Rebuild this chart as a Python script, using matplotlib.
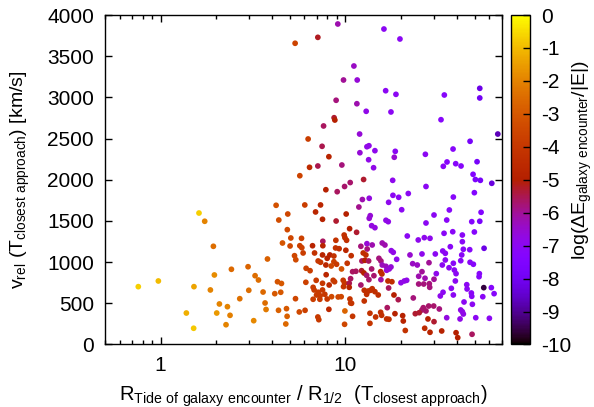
import numpy as np
import matplotlib
matplotlib.use("Agg")
import matplotlib.pyplot as plt
from matplotlib.ticker import LogLocator, FixedLocator, NullFormatter

plt.rcParams["font.family"] = ["Liberation Sans", "DejaVu Sans"]
plt.rcParams["mathtext.default"] = "regular"
plt.rcParams["font.size"] = 14

# R_tide / R_1/2, v_rel [km/s], log(dE/|E|), by region
R_left = [0.757, 0.972, 1.378, 1.509, 1.515, 1.613, 1.732, 1.859, 1.930, 1.954,
          2.012, 2.080, 2.259, 2.299, 2.375, 2.416, 2.681, 2.973, 3.00, 3.19,
          3.245, 3.385, 3.585, 3.675, 3.72, 3.787, 4.147, 4.217, 4.291, 4.345,
          4.361, 4.468, 4.508, 4.566, 4.759, 4.80, 4.837, 4.85, 4.877, 5.02,
          5.066, 5.305, 5.39, 5.345, 5.37, 5.63, 5.667]
v_left = [702, 771, 382, 197, 702, 1596, 1496, 662, 1192, 844,
          382, 492, 240, 459, 354, 913, 556, 944, 658, 289,
          835, 783, 637, 504, 425, 1038, 617, 1690, 762, 415,
          1511, 634, 741, 1232, 249, 435, 342, 1394, 1584, 1196,
          1293, 1078, 1029, 3657, 556, 395, 2049]
c_left = [-0.7, -1.0, -1.2, -0.8, -1.4, -0.7, -2.0, -2.0, -2.5, -1.8,
          -1.6, -2.0, -2.0, -2.0, -2.1, -2.6, -2.4, -2.7, -2.5, -1.9,
          -2.5, -2.5, -2.6, -2.5, -2.2, -2.8, -3.0, -3.2, -3.1, -2.8,
          -3.3, -3.0, -3.0, -3.1, -2.6, -3.0, -2.8, -3.4, -3.5, -3.5,
          -3.5, -3.5, -3.4, -3.6, -3.5, -3.4, -3.6]

R_mid = [7.095, 7.62, 6.285, 7.48, 8.14, 6.397, 7.095, 6.03, 7.337, 6.896,
         7.52, 5.789, 5.667, 5.81, 6.64, 7.55, 7.55, 5.905, 6.81, 7.52,
         8.24, 7.97, 7.12, 7.337, 7.84, 6.13, 6.44, 7.87, 6.95, 6.109,
         7.52, 8.17, 6.69, 6.774, 7.12, 7.52, 6.98, 7.30, 7.74, 6.69,
         7.275, 7.97, 6.05, 8.14, 7.095, 7.18]
v_mid = [3729, 2653, 2495, 2406, 2280, 2151, 2167, 1694, 1694, 1609,
         1520, 1289, 1199, 1175, 1199, 1253, 1199, 1111, 1111, 1087,
         1087, 1046, 1014, 998, 965, 925, 896, 847, 779, 755,
         743, 722, 694, 662, 634, 662, 601, 592, 609, 549,
         549, 552, 415, 427, 334, 301]
c_mid = [-5.2, -5.6, -3.8, -5.5, -4.8, -4.5, -5.5, -3.8, -4.7, -4.7,
         -4.9, -3.7, -3.7, -3.7, -4.8, -5.6, -4.8, -3.8, -4.2, -4.8,
         -5.0, -4.9, -4.0, -4.0, -4.7, -3.7, -3.8, -4.7, -3.9, -3.7,
         -4.0, -4.6, -3.9, -3.9, -3.9, -4.0, -3.9, -3.9, -4.0, -3.8,
         -3.9, -4.0, -3.7, -4.6, -3.9, -3.9]

R_top = [9.10, 16.17, 19.74, 11.12, 9.77, 11.59, 16.52, 18.78, 8.91, 11.54,
         12.96, 17.65, 8.69, 8.77, 11.94, 11.98, 13.08, 13.41, 14.45, 18.62,
         18.39, 13.36, 9.57, 14.21, 12.55, 18.03,
         34.32, 53.38, 53.38, 32.93, 66.83, 47.3, 38.26, 27.1, 35.49, 33.89,
         39.55, 42.27, 51.6, 49.1, 50.53, 53.78]
v_top = [3891, 3830, 3709, 3381, 3211, 3211, 3081, 3037, 2965, 2923,
         2831, 2823, 2753, 2725, 2555, 2328, 2401, 2413, 2353, 2345,
         2273, 2243, 2179, 2146, 2003, 1993,
         3029, 3110, 2993, 2729, 2555, 2467, 2373, 2309, 2216, 2163,
         2195, 2167, 2219, 2066, 2003, 1993]
c_top = [-6.2, -7.0, -7.0, -6.4, -6.0, -6.6, -7.0, -7.0, -5.8, -6.2,
         -6.8, -7.0, -5.3, -5.0, -6.6, -6.6, -6.8, -6.8, -6.9, -7.0,
         -6.5, -6.8, -5.8, -6.8, -5.3, -6.9,
         -7.2, -8.2, -8.0, -7.2, -8.7, -7.8, -7.2, -7.0, -7.2, -7.1,
         -7.2, -7.2, -7.8, -7.4, -7.6, -7.8]

R_ten = [7.84, 9.03, 9.90, 10.62, 12.36, 13.46, 18.09, 19.43, 21.9, 17.14,
         20.17, 11.83, 10.10, 13.63, 13.46, 8.91, 16.58, 17.06, 13.87, 14.45,
         10.54, 11.50, 8.88, 9.85, 9.94, 10.15, 21.63, 8.85, 9.25, 10.06,
         12.13, 13.08, 13.97, 13.12, 15.83, 16.37, 18.16, 17.71, 8.665, 10.75,
         12.49, 12.91, 15.19, 15.57, 18.95, 22.37, 8.665, 8.38, 8.96, 10.23,
         12.29, 12.76, 13.36, 15.83, 16.58, 17.65, 11.40, 10.94, 12.24, 12.60,
         13.87, 14.27, 15.52, 15.77, 16.73, 17.27, 9.53, 8.59, 8.74, 9.73,
         9.90, 10.67, 10.49, 13.03, 13.41, 15.57, 17.00, 17.86, 19.99, 20.84,
         21.47, 12.13, 9.77, 10.49, 12.65, 13.03, 13.29, 13.70, 13.97, 14.45,
         15.06, 17.14, 18.32, 19.33, 13.03, 8.42, 9.14, 9.49, 10.58, 10.67,
         12.65, 9.94, 10.80, 13.58, 15.52, 15.71, 16.73, 17.21, 14.58, 10.94,
         16.85, 18.55, 20.42, 20.58, 13.58, 9.90, 21.1]
v_ten = [1879, 1855, 1918, 1966, 1760, 1775, 1811, 1787, 1833, 1726,
         1636, 1669, 1584, 1564, 1532, 1499, 1508, 1491, 1442, 1418,
         1406, 1362, 1265, 1329, 1297, 1265, 1317, 1172, 1163, 1144,
         1192, 1224, 1208, 1159, 1232, 1208, 1119, 1139, 1074, 1078,
         1111, 1087, 1046, 1014, 1034, 1087, 1005, 953, 974, 986,
         1014, 1022, 1014, 965, 949, 941, 889, 884, 896, 868,
         917, 835, 884, 856, 901, 917, 917, 779, 762, 779,
         743, 799, 743, 840, 787, 787, 771, 762, 750, 771,
         779, 722, 702, 694, 658, 634, 649, 658, 677, 641,
         601, 686, 601, 544, 609, 580, 577, 580, 552, 504,
         528, 407, 500, 379, 391, 354, 310, 306, 334, 342,
         447, 374, 350, 285, 257, 245, 170]
c_ten = [-5.0, -5.6, -5.7, -5.7, -6.2, -6.7, -7.0, -7.0, -7.0, -6.9,
         -7.0, -5.9, -5.0, -6.6, -6.6, -5.3, -6.8, -6.8, -6.7, -6.7,
         -5.0, -5.3, -4.2, -4.3, -4.3, -4.3, -7.0, -4.2, -4.3, -4.7,
         -5.8, -6.6, -6.2, -5.8, -6.2, -6.2, -6.8, -6.8, -4.2, -4.3,
         -4.4, -4.4, -5.8, -5.8, -6.9, -6.5, -3.7, -3.5, -3.9, -4.1,
         -5.6, -5.0, -5.6, -6.3, -6.3, -6.6, -5.6, -5.6, -5.3, -5.0,
         -5.7, -5.7, -4.6, -4.4, -6.6, -6.6, -3.2, -3.9, -3.9, -4.0,
         -4.0, -5.6, -5.5, -5.7, -5.7, -6.1, -4.3, -4.4, -6.8, -6.8,
         -6.8, -5.7, -4.1, -4.8, -4.3, -4.3, -4.3, -4.3, -4.3, -4.3,
         -4.4, -5.6, -5.0, -5.5, -4.3, -3.4, -3.5, -3.5, -4.1, -4.1,
         -4.2, -2.7, -4.1, -4.2, -4.3, -4.3, -4.3, -4.3, -4.2, -4.1,
         -5.6, -4.9, -4.9, -4.8, -4.1, -3.5, -4.2]

R_far = [27.31, 38.4, 49.9, 62.0, 36.53, 54.26, 30.18, 35.36, 48.31, 53.38,
         27.31, 49.9, 34.2, 38.11, 42.96, 24.8, 26.74, 28.71, 42.96, 36.98,
         43.5, 47.1, 56.33, 33.65, 34.75, 30.67, 25.98, 42.64, 34.75, 33.47,
         42.11, 38.4, 47.3, 49.29, 23.13, 24.5, 28.35, 36.39, 38.88, 39.72,
         25.98, 31.05, 53.11, 52.91, 24.93, 26.98, 30.18, 39.37, 24.93, 26.55,
         28.46, 28.6, 45.39, 45.56, 37.45, 56.11, 61.66, 33.77, 32.64, 38.4,
         48.08, 48.31, 55.42, 63.82, 23.31, 43.87, 48.68, 26.41, 28.24, 30.06,
         27.31, 25.98, 23.9, 25.1, 32.24, 42.11, 42.96, 43.5, 35.36, 41.75,
         50.78, 60.17, 27.99, 30.18, 26.87, 28.71, 33.22, 39.72, 40.56, 48.49]
v_far = [1918, 1790, 1843, 1957, 1633, 1605, 1572, 1511, 1491, 1496,
         1475, 1366, 1350, 1369, 1329, 1269, 1297, 1289, 1248, 1187,
         1156, 1151, 1168, 1135, 1107, 1099, 1099, 1087, 1026, 965,
         1017, 986, 998, 974, 981, 965, 993, 932, 904, 860,
         884, 860, 860, 823, 828, 804, 792, 771, 734, 734,
         738, 694, 726, 674, 682, 690, 690, 634, 589, 601,
         625, 585, 580, 617, 565, 516, 488, 447, 467, 467,
         407, 419, 374, 386, 431, 419, 398, 370, 325, 310,
         325, 318, 310, 277, 197, 148, 164, 143, 83, 124]
c_far = [-7.0, -7.2, -7.4, -8.3, -7.2, -7.4, -7.0, -7.1, -7.3, -7.7,
         -7.0, -7.3, -7.1, -7.1, -7.1, -6.9, -6.9, -6.9, -7.1, -7.1,
         -7.1, -7.2, -8.2, -7.0, -7.0, -7.0, -6.9, -7.1, -7.0, -7.0,
         -7.1, -7.1, -7.1, -7.2, -6.4, -6.4, -6.0, -7.0, -7.0, -7.0,
         -6.0, -6.9, -7.2, -7.2, -6.2, -6.2, -6.0, -7.0, -5.8, -5.8,
         -5.8, -5.8, -7.0, -7.0, -7.0, -9.6, -7.3, -7.0, -6.9, -7.0,
         -7.1, -7.1, -7.1, -7.2, -5.8, -7.0, -7.0, -5.7, -5.7, -5.7,
         -5.7, -5.7, -5.3, -5.3, -5.8, -6.8, -6.8, -6.8, -6.7, -6.8,
         -7.0, -7.0, -5.0, -5.3, -4.5, -4.8, -4.9, -5.0, -5.0, -5.6]

R = np.concatenate([R_left, R_mid, R_top, R_ten, R_far])
v = np.concatenate([v_left, v_mid, v_top, v_ten, v_far])
logE = np.concatenate([c_left, c_mid, c_top, c_ten, c_far])

fig = plt.figure(figsize=(5.94, 4.07), dpi=100)
ax = fig.add_axes([0.1768, 0.1536, 0.6675, 0.8095])
sc = ax.scatter(R, v, c=logE, cmap="gnuplot", vmin=-10, vmax=0,
                s=17, linewidths=0, zorder=3)

ax.set_xscale("log")
ax.set_xlim(0.5, 70)
ax.set_ylim(0, 4000)
ax.set_yticks(range(0, 4001, 500))
ax.xaxis.set_major_locator(FixedLocator([1, 10]))
ax.set_xticklabels(["1", "10"])
ax.xaxis.set_minor_locator(LogLocator(base=10, subs=np.arange(2, 10)))
ax.xaxis.set_minor_formatter(NullFormatter())
ax.tick_params(which="both", direction="in", top=True, right=True, width=1)
ax.tick_params(which="major", length=5, pad=8, labelsize=15)
ax.tick_params(which="minor", length=3)
for s in ax.spines.values():
    s.set_linewidth(1.0)

ax.set_xlabel(r"R$_{Tide\ of\ galaxy\ encounter}$ / R$_{1/2}$  (T$_{closest\ approach}$)",
              fontsize=14.5)
ax.xaxis.set_label_coords(0.5, -0.117)
ax.set_ylabel(r"v$_{rel}$ (T$_{closest\ approach}$) [km/s]")
ax.yaxis.set_label_coords(-0.213, 0.5)
ax.yaxis.label.set_va("center")

cax = fig.add_axes([0.8603, 0.1536, 0.032, 0.8095])
cb = fig.colorbar(sc, cax=cax)
cb.set_ticks(range(-10, 1))
cb.set_ticklabels([str(t) for t in range(-10, 1)])
cax.tick_params(direction="in", length=5, width=1, pad=8, labelsize=15)
cb.outline.set_linewidth(1.0)
cb.set_label(r"log($\Delta$E$_{galaxy\ encounter}$/|E|)")
cax.yaxis.set_label_coords(3.15, 0.56)

fig.savefig("out.png", dpi=100)
